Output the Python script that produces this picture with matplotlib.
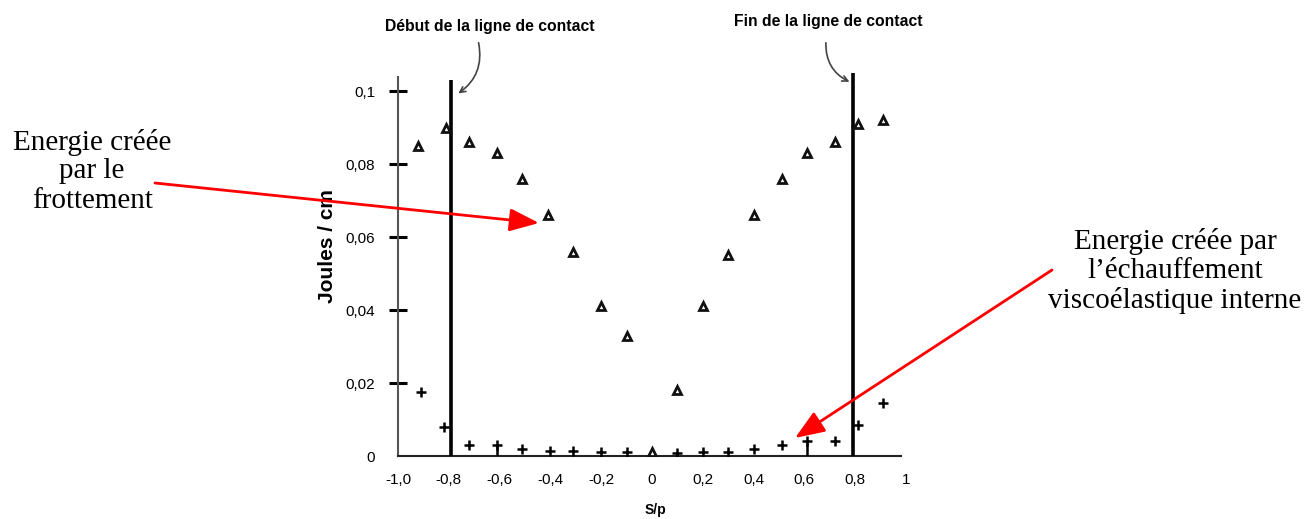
import matplotlib
matplotlib.use("Agg")
import matplotlib.pyplot as plt

# ────────────────────────── données ──────────────────────────
sp_frott = [-0.92, -0.81, -0.72, -0.61, -0.51, -0.41, -0.31, -0.20, -0.10, 0.0,
            0.10, 0.20, 0.30, 0.40, 0.51, 0.61, 0.72, 0.81, 0.91]
e_frott = [0.085, 0.090, 0.086, 0.083, 0.076, 0.066, 0.056, 0.041, 0.033, 0.001,
           0.018, 0.041, 0.055, 0.066, 0.076, 0.083, 0.086, 0.091, 0.092]

sp_visco = [-0.91, -0.82, -0.72, -0.61, -0.51, -0.40, -0.31, -0.20, -0.10,
            0.10, 0.20, 0.30, 0.40, 0.51, 0.61, 0.72, 0.81, 0.91]
e_visco = [0.0175, 0.008, 0.003, 0.003, 0.002, 0.0015, 0.0015, 0.001, 0.001,
           0.0008, 0.001, 0.0012, 0.002, 0.003, 0.004, 0.004, 0.0085, 0.0145]

contact_x = [-0.79, 0.79]
contact_top = [0.103, 0.105]

yticks = [0, 0.02, 0.04, 0.06, 0.08, 0.1]
ytick_labels = ["0", "0,02", "0,04", "0,06", "0,08", "0,1"]
xticks = [-1.0, -0.8, -0.6, -0.4, -0.2, 0, 0.2, 0.4, 0.6, 0.8, 1.0]
xtick_labels = ["-1,0", "-0,8", "-0,6", "-0,4", "-0,2", "0", "0,2", "0,4", "0,6", "0,8", "1"]

W, H = 1304, 519
SANS = ["Liberation Sans", "DejaVu Sans"]
SERIF = ["Liberation Serif", "DejaVu Serif"]

fig = plt.figure(figsize=(W / 100, H / 100), dpi=100)
fig.patch.set_facecolor("white")
ax = fig.add_axes([398 / W, 63 / H, 508 / W, 383 / H])
ax.set_xlim(-1.0, 1.0)
ax.set_ylim(0, 0.105)

for s in ("top", "right"):
    ax.spines[s].set_visible(False)
ax.spines["left"].set_color("#555555")
ax.spines["left"].set_linewidth(1.5)
ax.spines["left"].set_bounds(0, 0.104)
ax.spines["bottom"].set_color("#222222")
ax.spines["bottom"].set_linewidth(1.5)
ax.spines["bottom"].set_bounds(-1.0, 0.98)

# lignes de contact
for x, top in zip(contact_x, contact_top):
    ax.plot([x, x], [0, top], color="black", lw=2.6, solid_capstyle="butt", zorder=3)

# petites tiges sous certains points
for x, y in ((-0.61, 0.003), (0.61, 0.004)):
    ax.plot([x, x], [0, y], color="black", lw=1.8, zorder=3)

ax.plot(sp_frott, e_frott, ls="none", marker="^", ms=6, mfc="white",
        mec="#111111", mew=2.0, zorder=4)
ax.plot(sp_visco, e_visco, ls="none", marker="+", ms=7, mec="black",
        mew=1.8, zorder=4)

ax.set_yticks(yticks)
ax.set_yticklabels(ytick_labels, family=SANS, fontsize=11)
ax.set_xticks(xticks)
ax.set_xticklabels(xtick_labels, family=SANS, fontsize=11)
ax.tick_params(axis="y", direction="inout", length=13, width=2.2, color="black", pad=10)
ax.tick_params(axis="x", length=0, pad=12)
ax.yaxis.get_major_ticks()[0].tick1line.set_visible(False)

ax.set_ylabel("Joules / cm", family=SANS, fontsize=15, fontweight="bold")
ax.yaxis.set_label_coords(-0.12, 0.548)
fig.text(655 / W, 1 - 510 / H, "S/p", family=SANS, fontsize=10, fontweight="bold",
         ha="center", va="center")

# ────────────────────────── textes du haut + flèches courbes ─────────────────────
fig.text(490 / W, 1 - 27 / H, "Début de la ligne de contact", family=SANS,
         fontsize=11.3, fontweight="bold", ha="center", va="center")
fig.text(828 / W, 1 - 22 / H, "Fin de la ligne de contact", family=SANS,
         fontsize=11.3, fontweight="bold", ha="center", va="center")

ax.annotate("", xy=(456, H - 95), xycoords="figure pixels",
            xytext=(478, H - 40), textcoords="figure pixels",
            arrowprops=dict(arrowstyle="->", color="#444444", lw=1.2,
                            connectionstyle="arc3,rad=-0.35"))
ax.annotate("", xy=(852, H - 83), xycoords="figure pixels",
            xytext=(826, H - 40), textcoords="figure pixels",
            arrowprops=dict(arrowstyle="->", color="#444444", lw=1.2,
                            connectionstyle="arc3,rad=0.35"))

# ────────────────────────── annotations rouges ──────────────────────────────────
fig.text(92 / W, 1 - 171 / H, "Energie créée\npar le\nfrottement", family=SERIF,
         fontsize=21, ha="center", va="center", linespacing=1.15)
fig.text(1175 / W, 1 - 271 / H, "Energie créée par\nl\u2019échauffement\nviscoélastique interne",
         family=SERIF, fontsize=21, ha="center", va="center", linespacing=1.15)

ax.annotate("", xy=(539, H - 223), xycoords="figure pixels",
            xytext=(155, H - 183), textcoords="figure pixels",
            arrowprops=dict(arrowstyle="-|>,head_length=0.9,head_width=0.35",
                            color="red", lw=2, mutation_scale=20, shrinkA=0, shrinkB=0))
ax.annotate("", xy=(795, H - 438), xycoords="figure pixels",
            xytext=(1052, H - 270), textcoords="figure pixels",
            arrowprops=dict(arrowstyle="-|>,head_length=0.9,head_width=0.35",
                            color="red", lw=2, mutation_scale=20, shrinkA=0, shrinkB=0))

fig.savefig("out.png", dpi=100)
